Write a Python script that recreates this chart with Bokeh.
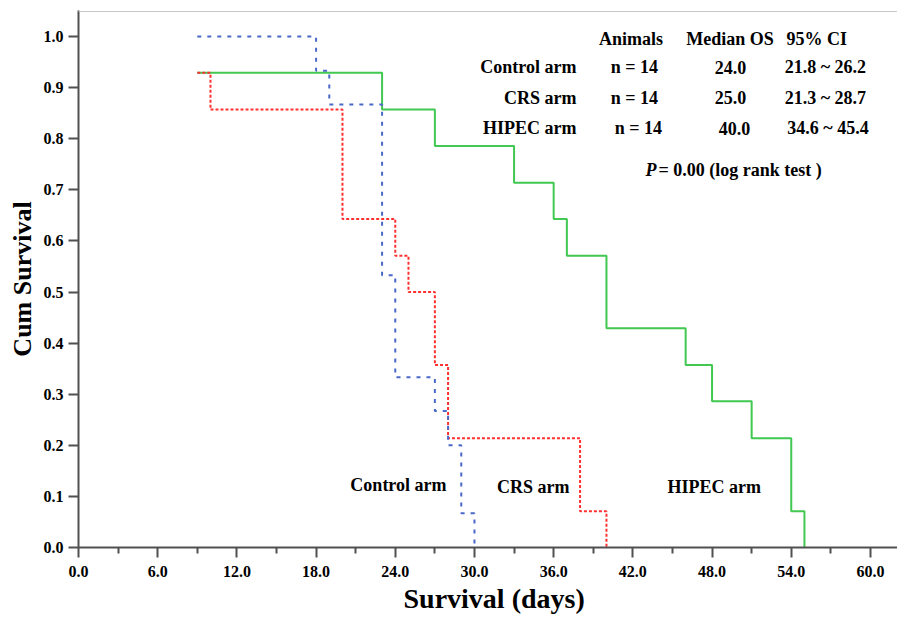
import math
from bokeh.plotting import figure
from bokeh.models import FixedTicker, PrintfTickFormatter, Span, Range1d, Title
from bokeh.core.properties import value
from bokeh.embed import file_html
from bokeh.resources import INLINE

# ---- data ----
control_days = [9, 18, 19, 23, 24, 27, 28, 29, 30]
control_surv = [1.0, 0.933, 0.867, 0.533, 0.333, 0.267, 0.200, 0.067, 0.0]
crs_days = [9, 10, 20, 24, 25, 27, 28, 38, 40]
crs_surv = [0.929, 0.857, 0.643, 0.571, 0.500, 0.357, 0.214, 0.071, 0.0]
hipec_days = [9, 23, 27, 33, 36, 37, 40, 46, 48, 51, 54, 55]
hipec_surv = [0.929, 0.857, 0.786, 0.714, 0.643, 0.571, 0.429, 0.357, 0.286, 0.214, 0.071, 0.0]

x_ticks = [0, 6, 12, 18, 24, 30, 36, 42, 48, 54, 60]
x_minor_ticks = [3, 9, 15, 21, 27, 33, 39, 45, 51, 57]
y_ticks = [0.0, 0.1, 0.2, 0.3, 0.4, 0.5, 0.6, 0.7, 0.8, 0.9, 1.0]

table_header = ["Animals", "Median OS", "95% CI"]
arm_names = ["Control arm", "CRS arm", "HIPEC arm"]
animals = ["n = 14", "n = 14", "n = 14"]
median_os = ["24.0", "25.0", "40.0"]
ci_95 = ["21.8 ~ 26.2", "21.3 ~ 28.7", "34.6 ~ 45.4"]
p_symbol = "P"
p_text = "= 0.00 (log rank test )"
x_title = "Survival (days)"
y_title = "Cum Survival"

FONT = "Liberation Serif"

p = figure(width=897, height=620, output_backend="svg", toolbar_location=None,
           x_range=Range1d(0, 62.05), y_range=Range1d(0, 1.051),
           min_border_left=78, min_border_right=0, min_border_top=10, min_border_bottom=73)
p.grid.visible = False
p.outline_line_color = None
p.background_fill_color = "white"

# top light border
p.add_layout(Span(location=1.049, dimension="width", line_color="#c8c8c8", line_width=1))

# curves
p.step(hipec_days, hipec_surv, mode="after", line_color="#40c850", line_width=2)
p.step(crs_days, crs_surv, mode="after", line_color="#ff3030", line_width=2, line_dash="3 2")
p.step(control_days, control_surv, mode="after", line_color="#4a68c8", line_width=2, line_dash="4 6")

# axes
for ax in (p.xaxis[0], p.yaxis[0]):
    ax.axis_line_color = "#505050"
    ax.axis_line_width = 2
    ax.major_tick_line_color = "#505050"
    ax.major_tick_line_width = 2
    ax.major_tick_in = 0
    ax.major_tick_out = 10
    ax.major_label_text_font = FONT
    ax.major_label_text_font_style = "bold"
    ax.major_label_text_font_size = "16px"
    ax.major_label_text_color = "black"
    ax.formatter = PrintfTickFormatter(format="%.1f")

p.xaxis[0].ticker = FixedTicker(ticks=x_ticks, minor_ticks=x_minor_ticks)
p.xaxis[0].minor_tick_line_color = "#505050"
p.xaxis[0].minor_tick_line_width = 2
p.xaxis[0].minor_tick_in = 0
p.xaxis[0].minor_tick_out = 6
p.xaxis[0].major_label_standoff = 8

p.yaxis[0].ticker = FixedTicker(ticks=y_ticks)
p.yaxis[0].minor_tick_line_color = None
p.yaxis[0].major_label_standoff = 5
p.yaxis[0].axis_label = y_title
p.yaxis[0].axis_label_text_font = FONT
p.yaxis[0].axis_label_text_font_style = "bold"
p.yaxis[0].axis_label_text_font_size = "26px"
p.yaxis[0].axis_label_text_color = "black"
p.yaxis[0].axis_label_standoff = 4

# x title below the axis
p.add_layout(Title(text=x_title, align="left", offset=325, text_font=FONT,
                   text_font_style="bold", text_font_size="28px", text_color="black",
                   standoff=3), "below")

# table
common = dict(text_font=value(FONT), text_font_style="bold", text_font_size="18px",
              text_baseline="middle", text_color="black")
row_y = [0.940, 0.880, 0.821]
p.text(x=[41.86, 49.36, 53.64], y=[0.9955] * 3, text=table_header,
       text_align=["center", "center", "left"], **common)
p.text(x=[37.73] * 3, y=row_y, text=arm_names, text_align="right", **common)
p.text(x=[42.12, 42.12, 42.42], y=row_y, text=animals, text_align="center", **common)
p.text(x=[49.39, 49.39, 49.7], y=row_y, text=median_os, text_align="center", **common)
p.text(x=[53.5, 53.5, 53.7], y=row_y, text=ci_95, text_align="left", **common)

p.text(x=[42.95], y=[0.739], text=[p_symbol], text_align="left",
       text_font=value(FONT), text_font_style="bold italic", text_font_size="18px",
       text_baseline="middle", text_color="black")
p.text(x=[43.94], y=[0.739], text=[p_text], text_align="left", **common)

# curve annotations
p.text(x=[24.24, 34.45, 48.17], y=[0.123, 0.118, 0.119], text=arm_names,
       text_align="center", **common)

open("out.html", "w").write(file_html(p, INLINE))
